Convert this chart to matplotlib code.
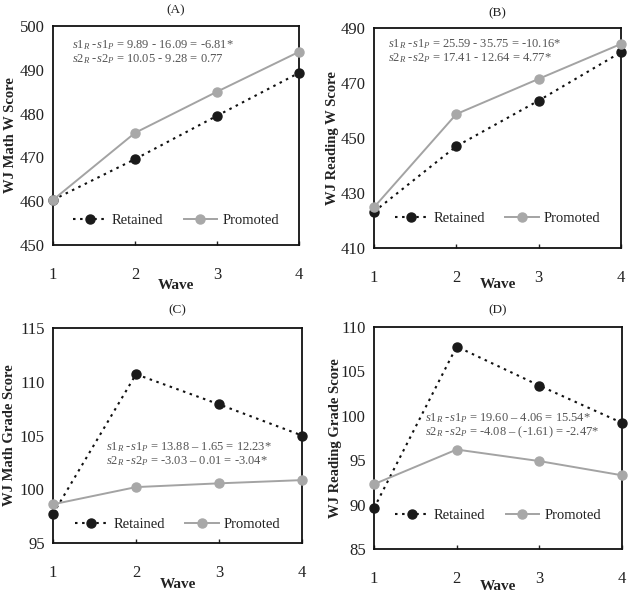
import matplotlib
matplotlib.use("Agg")
import matplotlib.pyplot as plt

plt.rcParams['font.family'] = ['Liberation Serif', 'DejaVu Serif']
plt.rcParams['mathtext.fontset'] = 'custom'
plt.rcParams['mathtext.rm'] = 'Liberation Serif'
plt.rcParams['mathtext.it'] = 'Liberation Serif:italic'

waves = [1, 2, 3, 4]
series_names = ["Retained", "Promoted"]

# Panel A: WJ Math W Score
a_retained = [460.3, 469.6, 479.5, 489.3]
a_promoted = [460.3, 475.6, 485.0, 494.1]
# Panel B: WJ Reading W Score
b_retained = [423.2, 447.0, 463.6, 481.2]
b_promoted = [424.8, 458.7, 471.5, 484.2]
# Panel C: WJ Math Grade Score
c_retained = [97.7, 110.7, 107.9, 105.0]
c_promoted = [98.6, 100.2, 100.55, 100.85]
# Panel D: WJ Reading Grade Score
d_retained = [89.6, 107.8, 103.4, 99.2]
d_promoted = [92.3, 96.2, 94.9, 93.3]

titles = ["(A)", "(B)", "(C)", "(D)"]
ylabels = ["WJ Math W Score", "WJ Reading W Score",
           "WJ Math Grade Score", "WJ Reading Grade Score"]
yticks = [[450, 460, 470, 480, 490, 500],
          [410, 430, 450, 470, 490],
          [95, 100, 105, 110, 115],
          [85, 90, 95, 100, 105, 110]]
notes = [
    [r"$\mathit{s}$1$_{\mathit{R}}$ -$\mathit{s}$1$_{\mathit{P}}$ = 9.89 - 16.09 = -6.81*",
     r"$\mathit{s}$2$_{\mathit{R}}$ -$\mathit{s}$2$_{\mathit{P}}$ = 10.05 - 9.28 = 0.77"],
    [r"$\mathit{s}$1$_{\mathit{R}}$ -$\mathit{s}$1$_{\mathit{P}}$ = 25.59 - 35.75 = -10.16*",
     r"$\mathit{s}$2$_{\mathit{R}}$ -$\mathit{s}$2$_{\mathit{P}}$ = 17.41 - 12.64 = 4.77*"],
    [r"$\mathit{s}$1$_{\mathit{R}}$ -$\mathit{s}$1$_{\mathit{P}}$ = 13.88 – 1.65 = 12.23*",
     r"$\mathit{s}$2$_{\mathit{R}}$ -$\mathit{s}$2$_{\mathit{P}}$ = -3.03 – 0.01 = -3.04*"],
    [r"$\mathit{s}$1$_{\mathit{R}}$ -$\mathit{s}$1$_{\mathit{P}}$ = 19.60 – 4.06 = 15.54*",
     r"$\mathit{s}$2$_{\mathit{R}}$ -$\mathit{s}$2$_{\mathit{P}}$ = -4.08 – (-1.61) = -2.47*"],
]
data = [(a_retained, a_promoted), (b_retained, b_promoted),
        (c_retained, c_promoted), (d_retained, d_promoted)]

W, H = 629, 595
# axes boxes in pixels: left, top, right, bottom
boxes = [(53, 26, 299, 245), (374, 28, 621, 248),
         (53, 328, 302, 543), (374, 327, 622, 549)]
legend_y = [0.114, 0.136, 0.088, 0.153]
note_pos = [(0.077, 0.912, 0.847), (0.057, 0.925, 0.862),
            (0.213, 0.447, 0.380), (0.206, 0.590, 0.527)]
ylabel_x = [-0.172, -0.166, -0.173, -0.157]
xlabel_y = [-0.183, -0.168, -0.195, -0.171]
title_y = [1.073, 1.068, 1.084, 1.077]

fig = plt.figure(figsize=(W / 100, H / 100), dpi=100)
for i in range(4):
    l, t, r, b = boxes[i]
    ax = fig.add_axes([l / W, (H - b) / H, (r - l) / W, (b - t) / H])
    ret, pro = data[i]
    ax.plot(waves, ret, linestyle=(0, (1.2, 2.2)), color='#111111', lw=1.5,
            marker='o', ms=6.5, mfc='#1a1a1a', mec='#1a1a1a',
            label=series_names[0], clip_on=False, zorder=3)
    ax.plot(waves, pro, linestyle='-', color='#a3a3a3', lw=1.4,
            marker='o', ms=6.5, mfc='#a8a8a8', mec='#a8a8a8',
            label=series_names[1], clip_on=False, zorder=3)
    ax.set_xlim(1, 4)
    ax.set_ylim(yticks[i][0], yticks[i][-1])
    ax.set_xticks(waves)
    ax.set_yticks(yticks[i])
    ax.tick_params(axis='x', direction='in', length=3, width=1, pad=16,
                   labelsize=12, colors='#222222', labelcolor='#222222')
    ax.tick_params(axis='y', length=0, pad=6, labelsize=12, labelcolor='#222222')
    for s in ax.spines.values():
        s.set_linewidth(1.3)
        s.set_color('#111111')
    ax.text(0.5, title_y[i], titles[i], transform=ax.transAxes,
            ha='center', va='center', fontsize=9.5, color='#222222')
    ax.text(ylabel_x[i], 0.5, ylabels[i], transform=ax.transAxes,
            ha='center', va='center', rotation=90, fontsize=10.5,
            fontweight='bold', color='#222222')
    ax.text(0.5, xlabel_y[i], "Wave", transform=ax.transAxes,
            ha='center', va='center', fontsize=11, fontweight='bold',
            color='#222222')
    nx, ny1, ny2 = note_pos[i]
    ax.text(nx, ny1, notes[i][0], transform=ax.transAxes, ha='left',
            va='center', fontsize=9, color='#555555')
    ax.text(nx, ny2, notes[i][1], transform=ax.transAxes, ha='left',
            va='center', fontsize=9, color='#555555')
    ax.legend(loc='center', bbox_to_anchor=(0.5, legend_y[i]), ncol=2,
              frameon=False, fontsize=10.5, handlelength=2.3,
              handletextpad=0.35, columnspacing=1.4, labelcolor='#222222')

fig.savefig("out.png", dpi=100)
